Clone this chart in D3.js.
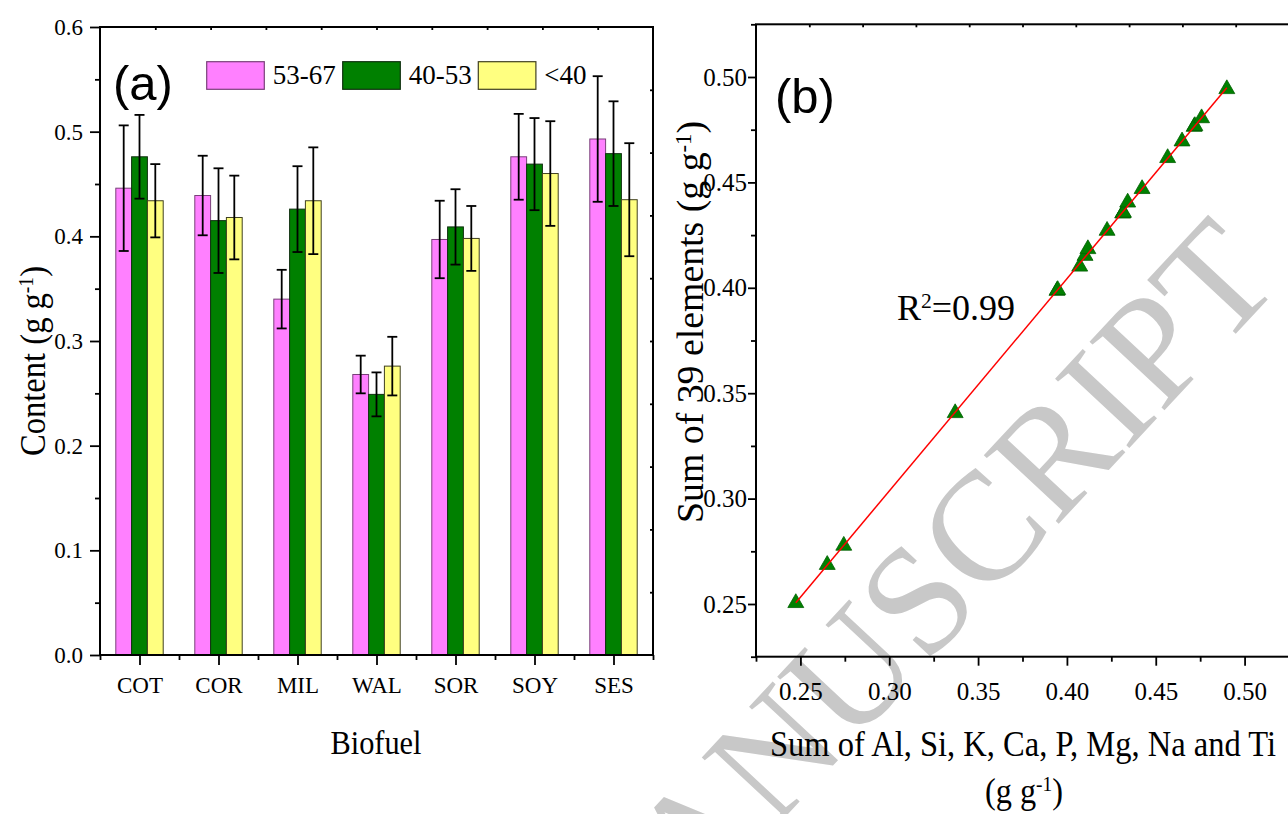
<!DOCTYPE html>
<html>
<head>
<meta charset="utf-8">
<script src="https://cdn.jsdelivr.net/npm/d3@7"></script>
<style>
  body { margin: 0; background: #fff; }
  svg { display: block; font-family: "Liberation Serif", "Times New Roman", serif; }
</style>
</head>
<body>
<div id="chart"></div>
<script>
// ---- panel (a): content by biofuel and particle size group
var fuels = ["COT", "COR", "MIL", "WAL", "SOR", "SOY", "SES"];
var groups = ["53-67", "40-53", "<40"];
var content5367 = [0.446, 0.439, 0.340, 0.268, 0.397, 0.476, 0.493];
var content4053 = [0.476, 0.415, 0.426, 0.249, 0.409, 0.469, 0.479];
var contentLt40 = [0.434, 0.418, 0.434, 0.276, 0.398, 0.460, 0.435];
var err5367 = [0.060, 0.038, 0.028, 0.018, 0.037, 0.041, 0.060];
var err4053 = [0.040, 0.050, 0.041, 0.021, 0.036, 0.044, 0.050];
var errLt40 = [0.035, 0.040, 0.051, 0.028, 0.031, 0.050, 0.054];
var yTicksA = [0, 0.1, 0.2, 0.3, 0.4, 0.5, 0.6];

// ---- panel (b): sum of 8 major elements vs sum of 39 elements
var sumMajor = [0.2474, 0.2651, 0.2744, 0.3371, 0.3944, 0.3948, 0.4072, 0.4102, 0.4118, 0.4226, 0.4314,
                0.4316, 0.4318, 0.4342, 0.4423, 0.4567, 0.4648, 0.4716, 0.4720, 0.4758, 0.4900];
var sum39 = [0.2505, 0.2686, 0.2777, 0.3406, 0.3986, 0.3990, 0.4101, 0.4152, 0.4184, 0.4271, 0.4353,
             0.4355, 0.4357, 0.4405, 0.4469, 0.4616, 0.4695, 0.4764, 0.4768, 0.4805, 0.4943];
var ticksB = [0.25, 0.30, 0.35, 0.40, 0.45, 0.50];
var r2Label = "0.99";

var colors = ["#ff80ff", "#008000", "#ffff80"];
var strokes = ["#7a407a", "#103010", "#404020"];

var svg = d3.select("#chart").append("svg")
  .attr("width", 1288).attr("height", 814);

// watermark sits behind everything
svg.append("text")
  .attr("transform", "translate(1284,282) rotate(-47)")
  .attr("text-anchor", "end")
  .style("font-size", "155px")
  .attr("fill", "#c8c8c8")
  .text("MANUSCRIPT");

function supLabel(sel, before, sup, after) {
  sel.append("tspan").text(before);
  sel.append("tspan").attr("dy", "-0.55em").style("font-size", "0.6em").text(sup);
  sel.append("tspan").attr("dy", "0.33em").text(after);
  return sel;
}

// ================= panel (a) =================
var A = { left: 100, right: 653, top: 27, bottom: 655 };
var x0 = d3.scaleBand().domain(fuels).range([A.left, A.right]);
var bw = x0.bandwidth();
var x1 = d3.scaleBand().domain(groups).range([bw * 0.2, bw * 0.8]);
var yA = d3.scaleLinear().domain([0, 0.6]).range([A.bottom, A.top]);

var values = [content5367, content4053, contentLt40];
var errs = [err5367, err4053, errLt40];
var barData = [];
fuels.forEach(function(f, i) {
  groups.forEach(function(g, j) {
    barData.push({ fuel: f, group: g, gi: j, v: values[j][i], e: errs[j][i] });
  });
});

var gA = svg.append("g");
gA.selectAll("rect.bar").data(barData).enter().append("rect")
  .attr("class", "bar")
  .attr("x", function(d) { return x0(d.fuel) + x1(d.group); })
  .attr("y", function(d) { return yA(d.v); })
  .attr("width", x1.bandwidth())
  .attr("height", function(d) { return yA(0) - yA(d.v); })
  .attr("fill", function(d) { return colors[d.gi]; })
  .attr("stroke", function(d) { return strokes[d.gi]; })
  .attr("stroke-width", 1);

// error bars
var eb = gA.selectAll("g.err").data(barData).enter().append("g")
  .attr("class", "err")
  .attr("stroke", "#000").attr("stroke-width", 1.8);
function cx(d) { return x0(d.fuel) + x1(d.group) + x1.bandwidth() / 2; }
eb.append("line")
  .attr("x1", cx).attr("x2", cx)
  .attr("y1", function(d) { return yA(d.v + d.e); })
  .attr("y2", function(d) { return yA(d.v - d.e); });
eb.append("line")
  .attr("x1", function(d) { return cx(d) - 5; }).attr("x2", function(d) { return cx(d) + 5; })
  .attr("y1", function(d) { return yA(d.v + d.e); }).attr("y2", function(d) { return yA(d.v + d.e); });
eb.append("line")
  .attr("x1", function(d) { return cx(d) - 5; }).attr("x2", function(d) { return cx(d) + 5; })
  .attr("y1", function(d) { return yA(d.v - d.e); }).attr("y2", function(d) { return yA(d.v - d.e); });

// frame
gA.append("rect")
  .attr("x", A.left).attr("y", A.top)
  .attr("width", A.right - A.left).attr("height", A.bottom - A.top)
  .attr("fill", "none").attr("stroke", "#000").attr("stroke-width", 2);

// y axis
var yAxA = gA.append("g").attr("transform", "translate(" + A.left + ",0)")
  .call(d3.axisLeft(yA).tickValues(yTicksA).tickSize(10).tickPadding(7).tickFormat(d3.format(".1f")));
gA.append("g").attr("transform", "translate(" + A.left + ",0)")
  .call(d3.axisLeft(yA).tickValues(d3.range(0.05, 0.6, 0.1)).tickSize(5).tickFormat(""));
// x axis: labels at centres, minor ticks at band edges
var xCenter = d3.scalePoint().domain(fuels).range([A.left + bw / 2, A.right - bw / 2]);
var xAxA = gA.append("g").attr("transform", "translate(0," + A.bottom + ")")
  .call(d3.axisBottom(xCenter).tickSize(10).tickPadding(12));
var edge = d3.scaleLinear().domain([0, fuels.length]).range([A.left, A.right]);
gA.append("g").attr("transform", "translate(0," + A.bottom + ")")
  .call(d3.axisBottom(edge).tickValues(d3.range(0, fuels.length + 1)).tickSize(5).tickFormat(""));
// mirror ticks on top and right
var div10x = d3.scaleLinear().domain([0, 10]).range([A.left, A.right]);
var div10y = d3.scaleLinear().domain([0, 10]).range([A.bottom, A.top]);
gA.append("g").attr("transform", "translate(0," + A.top + ")")
  .call(d3.axisTop(div10x).tickValues(d3.range(1, 10)).tickSize(-3).tickFormat(""));
gA.append("g").attr("transform", "translate(" + A.right + ",0)")
  .call(d3.axisRight(div10y).tickValues(d3.range(1, 10)).tickSize(-3).tickFormat(""));

[yAxA, xAxA].forEach(function(a) {
  a.selectAll("text").style("font-size", "23px").attr("fill", "#000")
    .style("font-family", "Liberation Serif");
});
gA.selectAll(".domain").remove();
gA.selectAll(".tick line").attr("stroke", "#000").attr("stroke-width", 1.8);

// legend
var leg = gA.append("g");
var legX = [206.7, 342.7, 478.3];
groups.forEach(function(g, j) {
  leg.append("rect").attr("x", legX[j]).attr("y", 61.7).attr("width", 57.6).attr("height", 27.6)
    .attr("fill", colors[j]).attr("stroke", strokes[j]).attr("stroke-width", 1.2);
  leg.append("text").attr("x", legX[j] + 66).attr("y", 84).style("font-size", "27px").text(g);
});

gA.append("text").attr("x", 113).attr("y", 100)
  .style("font-family", "Liberation Sans, Arial, sans-serif").style("font-size", "49px").text("(a)");

supLabel(gA.append("text").attr("transform", "translate(45,361) rotate(-90)")
  .attr("text-anchor", "middle").style("font-size", "36px"), "Content (g g", "-1", ")")
  .attr("textLength", 190).attr("lengthAdjust", "spacingAndGlyphs");
gA.append("text").attr("x", 376).attr("y", 754).attr("text-anchor", "middle")
  .style("font-size", "33px").attr("textLength", 91).attr("lengthAdjust", "spacingAndGlyphs")
  .text("Biofuel");

// ================= panel (b) =================
var B = { left: 756, right: 1289, top: 24.3, bottom: 656.7 };
var xB = d3.scaleLinear().domain([0.225, 0.525]).range([B.left, B.right]);
var yB = d3.scaleLinear().domain([0.225, 0.525]).range([B.bottom, B.top]);
var gB = svg.append("g");

gB.append("rect")
  .attr("x", B.left).attr("y", B.top)
  .attr("width", B.right - B.left).attr("height", B.bottom - B.top)
  .attr("fill", "none").attr("stroke", "#000").attr("stroke-width", 2);

var yAxB = gB.append("g").attr("transform", "translate(" + B.left + ",0)")
  .call(d3.axisLeft(yB).tickValues(ticksB).tickSize(8).tickPadding(1).tickFormat(d3.format(".2f")));
gB.append("g").attr("transform", "translate(" + B.left + ",0)")
  .call(d3.axisLeft(yB).tickValues(d3.range(0.225, 0.53, 0.05)).tickSize(5).tickFormat(""));
var xAxB = gB.append("g").attr("transform", "translate(0," + B.bottom + ")")
  .call(d3.axisBottom(xB).tickValues(ticksB).tickSize(9).tickPadding(17).tickFormat(d3.format(".2f")));
gB.append("g").attr("transform", "translate(0," + B.bottom + ")")
  .call(d3.axisBottom(xB).tickValues(d3.range(0.225, 0.53, 0.05)).tickSize(5).tickFormat(""));
var div10xB = d3.scaleLinear().domain([0, 10]).range([B.left, B.right]);
gB.append("g").attr("transform", "translate(0," + B.top + ")")
  .call(d3.axisTop(div10xB).tickValues(d3.range(1, 10)).tickSize(-3).tickFormat(""));

[yAxB, xAxB].forEach(function(a) {
  a.selectAll("text").style("font-size", "25px").attr("fill", "#000")
    .style("font-family", "Liberation Serif");
});
gB.selectAll(".domain").remove();
gB.selectAll(".tick line").attr("stroke", "#000").attr("stroke-width", 1.8);

// points
var pts = sumMajor.map(function(v, i) { return { x: v, y: sum39[i] }; });
gB.selectAll("path.pt").data(pts).enter().append("path")
  .attr("class", "pt")
  .attr("d", d3.symbol().type(d3.symbolTriangle).size(110))
  .attr("transform", function(d) { return "translate(" + xB(d.x) + "," + yB(d.y) + ")"; })
  .attr("fill", "#008000").attr("stroke", "#006000").attr("stroke-width", 0.8);

// least squares fit line
var mx = d3.mean(pts, function(d) { return d.x; });
var my = d3.mean(pts, function(d) { return d.y; });
var sxy = d3.sum(pts, function(d) { return (d.x - mx) * (d.y - my); });
var sxx = d3.sum(pts, function(d) { return (d.x - mx) * (d.x - mx); });
var slope = sxy / sxx, icpt = my - slope * mx;
var xr = d3.extent(sumMajor);
gB.append("line")
  .attr("x1", xB(xr[0])).attr("y1", yB(slope * xr[0] + icpt))
  .attr("x2", xB(xr[1])).attr("y2", yB(slope * xr[1] + icpt))
  .attr("stroke", "#ff0000").attr("stroke-width", 1.5);

gB.append("text").attr("x", 775).attr("y", 113)
  .style("font-family", "Liberation Sans, Arial, sans-serif").style("font-size", "49px").text("(b)");

var r2 = gB.append("text").attr("x", 897).attr("y", 320).style("font-size", "36px");
supLabel(r2, "R", "2", "=" + r2Label);

supLabel(gB.append("text").attr("transform", "translate(703,322) rotate(-90)")
  .attr("text-anchor", "middle").style("font-size", "37px"), "Sum of 39 elements (g g", "-1", ")")
  .attr("textLength", 402).attr("lengthAdjust", "spacingAndGlyphs");
gB.append("text").attr("x", 1023).attr("y", 756).attr("text-anchor", "middle")
  .style("font-size", "35px").attr("textLength", 506).attr("lengthAdjust", "spacingAndGlyphs")
  .text("Sum of Al, Si, K, Ca, P, Mg, Na and Ti");
supLabel(gB.append("text").attr("x", 1024).attr("y", 803).attr("text-anchor", "middle")
  .style("font-size", "35px"), "(g g", "-1", ")")
  .attr("textLength", 78).attr("lengthAdjust", "spacingAndGlyphs");
</script>
</body>
</html>
